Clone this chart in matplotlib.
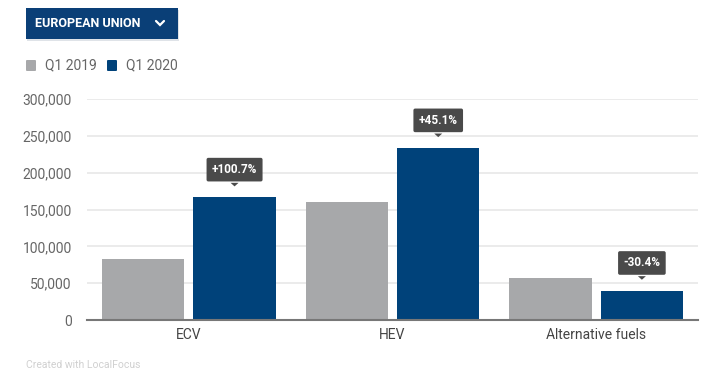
import matplotlib
matplotlib.use("Agg")
import matplotlib.pyplot as plt
from matplotlib.patches import FancyBboxPatch, Rectangle, Polygon
from matplotlib.lines import Line2D
from matplotlib.ticker import FuncFormatter
import numpy as np

categories = ["ECV", "HEV", "Alternative fuels"]
series_names = ["Q1 2019", "Q1 2020"]
q1_2019 = [82900, 160800, 57000]
q1_2020 = [166400, 233300, 39700]
changes = ["+100.7%", "+45.1%", "-30.4%"]
yticks = [0, 50000, 100000, 150000, 200000, 250000, 300000]

grey = "#a7a8aa"
blue = "#00427a"
plt.rcParams['font.family'] = ['Roboto', 'DejaVu Sans']

fig = plt.figure(figsize=(7.25, 3.74), dpi=100)
ax = fig.add_axes([87/725, 1-320/374, (698-87)/725, (320-99)/374])

x = np.arange(len(categories))
w = 0.405
gap = 0.044
ax.bar(x - (w+gap)/2, q1_2019, w, color=grey, zorder=2)
ax.bar(x + (w+gap)/2, q1_2020, w, color=blue, zorder=2)

ax.set_xlim(-0.5, 2.5)
ax.set_ylim(0, 300000)
ax.set_yticks(yticks)
ax.yaxis.set_major_formatter(FuncFormatter(lambda v, p: f"{int(v):,}"))
ax.grid(axis='y', color='#e8e8e8', linewidth=1.2, zorder=0)
ax.set_xticks(x)
ax.set_xticklabels(categories)
for s in ['top', 'right', 'left']:
    ax.spines[s].set_visible(False)
ax.spines['bottom'].set_color('#777777')
ax.spines['bottom'].set_linewidth(1.5)
ax.spines['bottom'].set_zorder(3)
ax.tick_params(axis='y', length=0, pad=11, labelsize=10, labelcolor='#666666')
ax.tick_params(axis='x', length=0, pad=6, labelsize=10, labelcolor='#444444')

# change annotations
for xi, v, lab in zip(x + (w+gap)/2, q1_2020, changes):
    ax.annotate(lab, xy=(xi, v), xytext=(0, 20), textcoords='offset points',
                ha='center', va='center', fontsize=8.5, fontweight='bold', color='white',
                bbox=dict(boxstyle='round,pad=0.45,rounding_size=0.15', fc='#4a4a4a', ec='none'),
                zorder=5)
    disp = ax.transData.transform((xi, v))
    fx, fy = fig.transFigure.inverted().transform(disp)
    tri_h = 6/374
    base_y = fy + 11/374
    tri = Polygon([[fx - 4/725, base_y + tri_h*0.6], [fx + 4/725, base_y + tri_h*0.6], [fx, base_y]],
                  closed=True, transform=fig.transFigure, fc='#4a4a4a', ec='none', zorder=5)
    fig.patches.append(tri)

# button
shadow = Rectangle((27/725, 1-41/374), 152/725, 31/374, transform=fig.transFigure,
                   fc='#dfe3e8', ec='none')
fig.patches.append(shadow)
btn = Rectangle((26/725, 1-39/374), 152/725, 31/374, transform=fig.transFigure,
                fc='#0a3f77', ec='none')
fig.patches.append(btn)
fig.text(35/725, 1-23.5/374, "EUROPEAN UNION", color='white', fontsize=9,
         fontweight='bold', va='center', ha='left')
chev = Line2D([156/725, 160/725, 164/725], [1-21/374, 1-25/374, 1-21/374],
              transform=fig.transFigure, color='white', linewidth=1.6,
              solid_capstyle='round', solid_joinstyle='miter')
fig.lines.append(chev)

# legend
for (x0, col, name) in [(26, grey, series_names[0]), (107, blue, series_names[1])]:
    r = FancyBboxPatch((x0/725, 1-71/374), 10/725, 11/374, transform=fig.transFigure,
                       boxstyle='round,pad=0,rounding_size=0.002', fc=col, ec='none')
    fig.patches.append(r)
    fig.text((x0+19)/725, 1-65.5/374, name, color='#666666', fontsize=10, va='center', ha='left')

fig.text(26/725, 1-365/374, "Created with LocalFocus", color='#d0d0d0', fontsize=7.5,
         va='center', ha='left')

fig.savefig("out.png", dpi=100, facecolor='white')
